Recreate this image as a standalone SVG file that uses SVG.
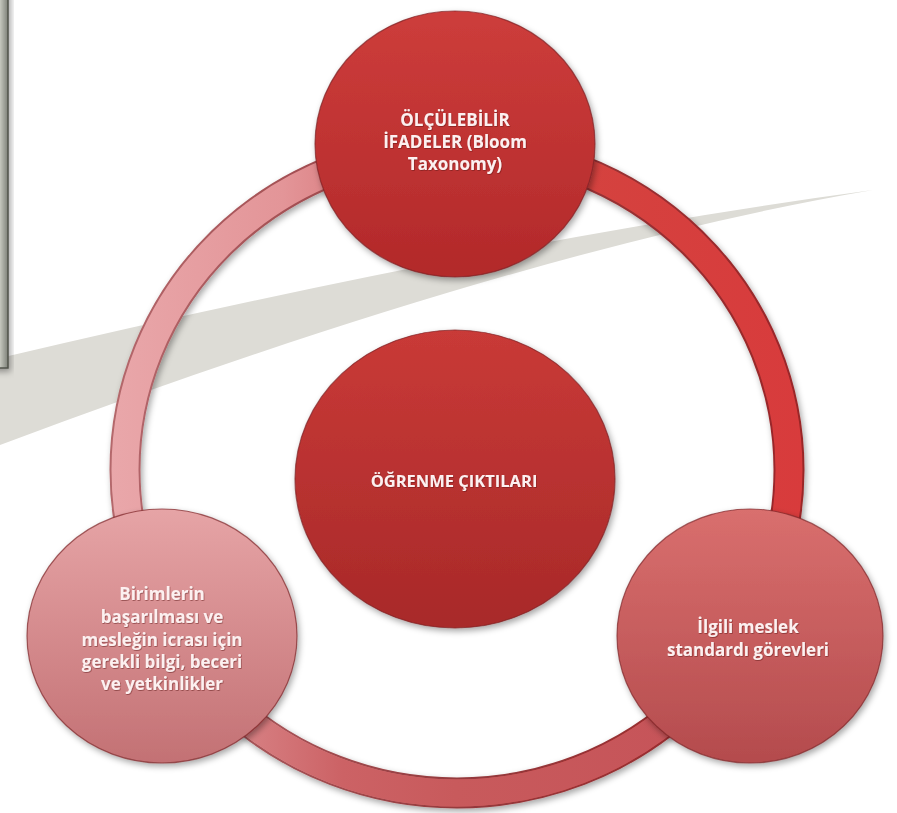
<svg xmlns="http://www.w3.org/2000/svg" width="897" height="813" viewBox="0 0 897 813">
  <defs>
    <style>
      .lbl { font-family: "Open Sans", "Liberation Sans", sans-serif; font-weight: 700; font-size: 17px; fill: #fdf0f0; text-anchor: middle; }
      .lbl-c { font-size: 16.5px; }
      .node-shape { stroke: #7d2426; stroke-width: 1.2; stroke-opacity: 0.7; filter: url(#shadow); }
      .ring { fill: none; }
    </style>
    <filter id="shadow" x="-20%" y="-20%" width="140%" height="140%">
      <feDropShadow dx="2" dy="3" stdDeviation="3" flood-color="#000" flood-opacity="0.35"/>
    </filter>
    <filter id="tshadow" x="-10%" y="-30%" width="120%" height="160%">
      <feDropShadow dx="0.6" dy="0.8" stdDeviation="0.6" flood-color="#5a1010" flood-opacity="0.6"/>
    </filter>
    <clipPath id="clipBottom">
      <rect x="0" y="700" width="897" height="113"/>
    </clipPath>
    <linearGradient id="gRing" gradientUnits="userSpaceOnUse" x1="110" y1="0" x2="803" y2="0">
      <stop offset="0" stop-color="#e9a7aa"/>
      <stop offset="0.25" stop-color="#e39598"/>
      <stop offset="0.45" stop-color="#d3686b"/>
      <stop offset="0.65" stop-color="#d4433f"/>
      <stop offset="1" stop-color="#d83b3c"/>
    </linearGradient>
    <linearGradient id="gRingBottom" gradientUnits="userSpaceOnUse" x1="230" y1="0" x2="680" y2="0">
      <stop offset="0" stop-color="#d88487"/>
      <stop offset="0.25" stop-color="#cc6265"/>
      <stop offset="0.5" stop-color="#c85a5c"/>
      <stop offset="1" stop-color="#c65459"/>
    </linearGradient>
    <linearGradient id="gRingEdge" gradientUnits="userSpaceOnUse" x1="110" y1="0" x2="803" y2="0">
      <stop offset="0" stop-color="#b4686c"/>
      <stop offset="0.5" stop-color="#953a3d"/>
      <stop offset="1" stop-color="#9a2628"/>
    </linearGradient>
    <linearGradient id="gTop" x1="0" y1="0" x2="0" y2="1">
      <stop offset="0" stop-color="#cd3d3b"/>
      <stop offset="1" stop-color="#b2292a"/>
    </linearGradient>
    <linearGradient id="gCenter" x1="0" y1="0" x2="0" y2="1">
      <stop offset="0" stop-color="#c93a37"/>
      <stop offset="1" stop-color="#a82929"/>
    </linearGradient>
    <linearGradient id="gLeft" x1="0" y1="0" x2="0" y2="1">
      <stop offset="0" stop-color="#e6a4a6"/>
      <stop offset="1" stop-color="#c37174"/>
    </linearGradient>
    <linearGradient id="gRight" x1="0" y1="0" x2="0" y2="1">
      <stop offset="0" stop-color="#d96f6e"/>
      <stop offset="1" stop-color="#b44b4d"/>
    </linearGradient>
    <linearGradient id="gBox" x1="0" y1="0" x2="1" y2="0">
      <stop offset="0" stop-color="#9a9d94"/>
      <stop offset="0.7" stop-color="#c9cbc2"/>
      <stop offset="1" stop-color="#7d8078"/>
    </linearGradient>
  </defs>

  <rect x="0" y="0" width="897" height="813" fill="#ffffff"/>

  <!-- background decoration -->
  <g id="background">
    <path d="M873,190 Q500,240 0,358 L0,445 Q520,250 873,190 Z" fill="#dddcd6"/>
    <rect x="-20" y="-10" width="28" height="378" fill="url(#gBox)" stroke="#50534b" stroke-width="1.5" filter="url(#shadow)"/>
  </g>

  <!-- connectors: the ring joining the outer nodes -->
  <g id="connectors">
    <ellipse class="ring" cx="457" cy="470" rx="332" ry="323" stroke="url(#gRingEdge)" stroke-width="31" filter="url(#shadow)"/>
    <ellipse class="ring" cx="457" cy="470" rx="332" ry="323" stroke="url(#gRing)" stroke-width="27"/>
    <ellipse class="ring" cx="457" cy="470" rx="332" ry="323" stroke="url(#gRingBottom)" stroke-width="27" clip-path="url(#clipBottom)"/>
  </g>

  <g id="node-top">
    <ellipse class="node-shape" cx="455" cy="144" rx="140" ry="133" fill="url(#gTop)"/>
    <g filter="url(#tshadow)">
      <text class="lbl" x="455" y="126">ÖLÇÜLEBİLİR</text>
      <text class="lbl" x="455" y="148">İFADELER (Bloom</text>
      <text class="lbl" x="455" y="170">Taxonomy)</text>
    </g>
  </g>

  <g id="node-center">
    <ellipse class="node-shape" cx="455" cy="479" rx="160" ry="149" fill="url(#gCenter)"/>
    <text class="lbl lbl-c" x="454" y="487" filter="url(#tshadow)">ÖĞRENME ÇIKTILARI</text>
  </g>

  <g id="node-left">
    <ellipse class="node-shape" cx="162" cy="636" rx="135" ry="127" fill="url(#gLeft)"/>
    <g filter="url(#tshadow)">
      <text class="lbl" x="162" y="600">Birimlerin</text>
      <text class="lbl" x="162" y="623">başarılması ve</text>
      <text class="lbl" x="162" y="646">mesleğin icrası için</text>
      <text class="lbl" x="162" y="668">gerekli bilgi, beceri</text>
      <text class="lbl" x="162" y="690">ve yetkinlikler</text>
    </g>
  </g>

  <g id="node-right">
    <ellipse class="node-shape" cx="750" cy="636" rx="133" ry="127" fill="url(#gRight)"/>
    <g filter="url(#tshadow)">
      <text class="lbl" x="748" y="633">İlgili meslek</text>
      <text class="lbl" x="748" y="656">standardı görevleri</text>
    </g>
  </g>
</svg>
